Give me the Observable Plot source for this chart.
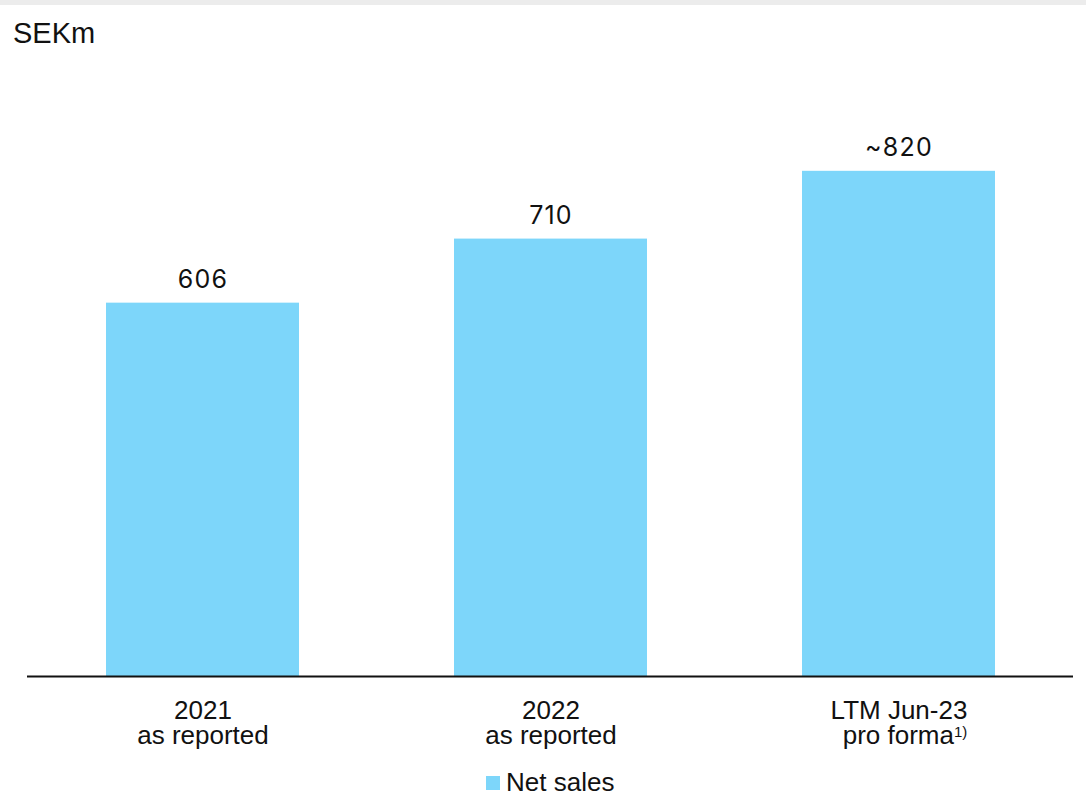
<!DOCTYPE html>
<html>
<head>
<meta charset="utf-8">
<script src="https://cdn.jsdelivr.net/npm/d3@7"></script>
<script src="https://cdn.jsdelivr.net/npm/@observablehq/plot@0.6"></script>
<style>
  body { margin: 0; background: #fff; }
  #wrap { position: relative; width: 1086px; height: 807px; background: #fff; overflow: hidden;
          font-family: "Liberation Sans", Arial, Helvetica, sans-serif; color: #111; }
  #band { position: absolute; left: 0; top: 0; width: 1086px; height: 5px; background: #ececec; }
  #unit { position: absolute; left: 13px; top: 19px; font-size: 29px; line-height: 1; }
  #chart { position: absolute; left: 0; top: 55px; }
  #legend { position: absolute; left: 486px; top: 769px; font-size: 26px; line-height: 1; }
  #legend .sw { position: absolute; left: 0; top: 7px; width: 14px; height: 14px; }
  #legend .lbl { position: absolute; left: 20px; top: 0; white-space: nowrap; }
</style>
</head>
<body>
<div id="wrap">
  <div id="band"></div>
  <div id="unit">SEKm</div>
  <div id="chart"></div>
  <div id="legend"><span class="sw"></span><span class="lbl">Net sales</span></div>
</div>
<script>
// Net sales by period, SEKm
const categories = ["2021\nas reported", "2022\nas reported", "LTM Jun-23\npro forma"];
const netSales = [606, 710, 820];
const valuePrefix = ["", "", "~"];
const seriesName = "Net sales";
const barColor = "#7dd6fa";

const data = categories.map((c, i) => ({cat: c, value: netSales[i], label: valuePrefix[i] + netSales[i]}));

const font = "'Liberation Sans', Arial, Helvetica, sans-serif";

const chart = Plot.plot({
  width: 1086,
  height: 705,
  marginLeft: 27,
  marginRight: 13,
  marginTop: 0,
  marginBottom: 84,
  style: {fontFamily: font, color: "#111", background: "transparent"},
  x: {domain: categories, paddingInner: 0.446, paddingOuter: 0.223, axis: null},
  y: {domain: [0, 1008], axis: null},
  marks: [
    Plot.barY(data, {x: "cat", y: "value", fill: barColor}),
    Plot.ruleY([0], {stroke: "#111", strokeWidth: 2}),
    // value labels above the bars
    Plot.text(data, {x: "cat", y: "value", text: "label", lineAnchor: "bottom", dy: -15.5,
                     fontSize: 25, fontFamily: "Inter, 'Liberation Sans', sans-serif", fill: "#111"}),
    // period labels under the baseline
    Plot.text(data, {x: "cat", text: "cat", frameAnchor: "bottom", lineAnchor: "top",
                     dy: 24.8, lineHeight: 0.95, fontSize: 26, fill: "#111"})
  ]
});

const textGroups = d3.select(chart).selectAll("g[aria-label='text']");
// slightly wider tracking for the value labels
d3.select(textGroups.nodes()[0]).style("letter-spacing", "1.2px");

// footnote marker on the pro forma label
d3.select(chart).selectAll("text tspan").each(function() {
  if (this.textContent === "pro forma") {
    d3.select(this).attr("x", 6)
      .append("tspan")
      .attr("font-size", 15)
      .attr("dy", "-7")
      .text("1)");
  }
});

document.getElementById("chart").appendChild(chart);
document.querySelector("#legend .sw").style.background = barColor;
document.querySelector("#legend .lbl").textContent = seriesName;
</script>
</body>
</html>
